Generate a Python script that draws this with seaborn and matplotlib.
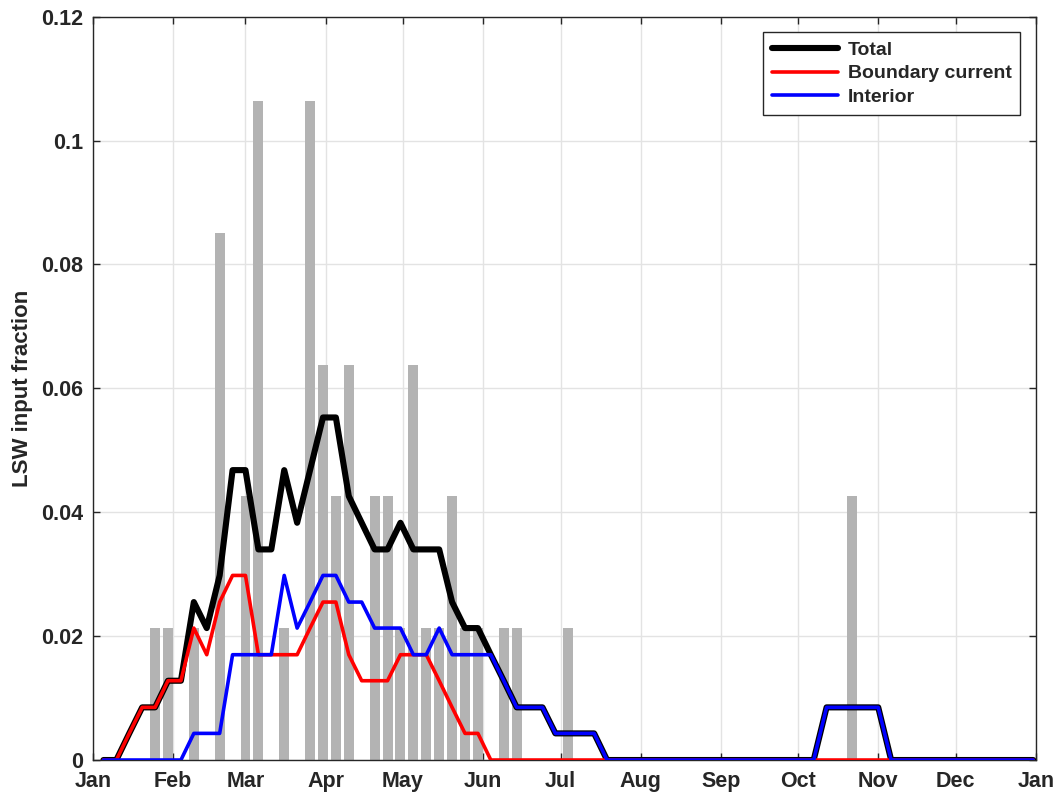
import numpy as np
import pandas as pd
import matplotlib
matplotlib.use("Agg")
import matplotlib.pyplot as plt
import seaborn as sns

# 5-day bins, centre day of year
bin_day = np.arange(4, 365, 5)

# grey bars: LSW input fraction per bin
bar_frac = [0, 0, 0, 0, 0.0213, 0.0213, 0, 0.0213, 0, 0.0851,
            0, 0.0426, 0.1064, 0, 0.0213, 0, 0.1064, 0.0638, 0.0426, 0.0638,
            0, 0.0426, 0.0426, 0.0213, 0.0638, 0.0213, 0.0213, 0.0426, 0.0213, 0.0213,
            0, 0.0213, 0.0213, 0, 0, 0, 0.0213, 0, 0, 0,
            0, 0, 0, 0, 0, 0, 0, 0, 0, 0,
            0, 0, 0, 0, 0, 0, 0, 0, 0.0426, 0,
            0, 0, 0, 0, 0, 0, 0, 0, 0, 0,
            0, 0, 0]

total = [0, 0, 0.0043, 0.0085, 0.0085, 0.0128, 0.0128, 0.0255, 0.0213, 0.0298,
         0.0468, 0.0468, 0.0340, 0.0340, 0.0468, 0.0383, 0.0468, 0.0553, 0.0553, 0.0426,
         0.0383, 0.0340, 0.0340, 0.0383, 0.0340, 0.0340, 0.0340, 0.0255, 0.0213, 0.0213,
         0.0170, 0.0128, 0.0085, 0.0085, 0.0085, 0.0043, 0.0043, 0.0043, 0.0043, 0,
         0, 0, 0, 0, 0, 0, 0, 0, 0, 0,
         0, 0, 0, 0, 0, 0, 0.0085, 0.0085, 0.0085, 0.0085,
         0.0085, 0, 0, 0, 0, 0, 0, 0, 0, 0,
         0, 0, 0]

boundary = [0, 0, 0.0043, 0.0085, 0.0085, 0.0128, 0.0128, 0.0213, 0.0170, 0.0255,
            0.0298, 0.0298, 0.0170, 0.0170, 0.0170, 0.0170, 0.0213, 0.0255, 0.0255, 0.0170,
            0.0128, 0.0128, 0.0128, 0.0170, 0.0170, 0.0170, 0.0128, 0.0085, 0.0043, 0.0043,
            0, 0, 0, 0, 0, 0, 0, 0, 0, 0,
            0, 0, 0, 0, 0, 0, 0, 0, 0, 0,
            0, 0, 0, 0, 0, 0, 0, 0, 0, 0,
            0, 0, 0, 0, 0, 0, 0, 0, 0, 0,
            0, 0, 0]

interior = [0, 0, 0, 0, 0, 0, 0, 0.0043, 0.0043, 0.0043,
            0.0170, 0.0170, 0.0170, 0.0170, 0.0298, 0.0213, 0.0255, 0.0298, 0.0298, 0.0255,
            0.0255, 0.0213, 0.0213, 0.0213, 0.0170, 0.0170, 0.0213, 0.0170, 0.0170, 0.0170,
            0.0170, 0.0128, 0.0085, 0.0085, 0.0085, 0.0043, 0.0043, 0.0043, 0.0043, 0,
            0, 0, 0, 0, 0, 0, 0, 0, 0, 0,
            0, 0, 0, 0, 0, 0, 0.0085, 0.0085, 0.0085, 0.0085,
            0.0085, 0, 0, 0, 0, 0, 0, 0, 0, 0,
            0, 0, 0]

month_start = [0, 31, 59, 90, 120, 151, 181, 212, 243, 273, 304, 334, 365]
month_names = ["Jan", "Feb", "Mar", "Apr", "May", "Jun", "Jul",
               "Aug", "Sep", "Oct", "Nov", "Dec", "Jan"]

df = pd.DataFrame({"day": bin_day, "bar": bar_frac, "total": total,
                   "boundary": boundary, "interior": interior})

sns.set_style("ticks")
plt.rcParams["font.family"] = ["Liberation Sans", "DejaVu Sans"]
plt.rcParams["font.weight"] = "bold"

fig = plt.figure(figsize=(10.58, 7.95), dpi=100)
ax = fig.add_axes([0.088, 0.044, 0.891, 0.935])

sns.barplot(data=df, x="day", y="bar", native_scale=True, orient="x",
            width=0.77, color="#b3b3b3", saturation=1, linewidth=0,
            errorbar=None, ax=ax, zorder=2)

sns.lineplot(data=df, x="day", y="total", color="black", linewidth=4.4,
             label="Total", ax=ax, zorder=3)
sns.lineplot(data=df, x="day", y="boundary", color="#ff0000", linewidth=2.6,
             label="Boundary current", ax=ax, zorder=4)
sns.lineplot(data=df, x="day", y="interior", color="#0000ff", linewidth=2.6,
             label="Interior", ax=ax, zorder=5)

ax.set_xlim(0, 365)
ax.set_ylim(0, 0.12)
ax.set_xticks(month_start)
ax.set_xticklabels(month_names)
ax.set_yticks([0, 0.02, 0.04, 0.06, 0.08, 0.1, 0.12])
ax.set_yticklabels(["0", "0.02", "0.04", "0.06", "0.08", "0.1", "0.12"])
ax.set_xlabel("")
ax.set_ylabel("LSW input fraction", fontsize=16, fontweight="bold", labelpad=6)
ax.grid(True, color="#e3e3e3", linewidth=1, zorder=0)
ax.set_axisbelow(True)
ax.tick_params(direction="in", length=5, width=1, labelsize=15.5,
               top=True, right=True, colors="#262626")
ax.tick_params(axis="x", pad=8)
ax.tick_params(axis="y", pad=7)
for lab in ax.get_xticklabels() + ax.get_yticklabels():
    lab.set_fontweight("bold")
for sp in ax.spines.values():
    sp.set_visible(True)
    sp.set_color("#262626")
    sp.set_linewidth(1)

leg = ax.legend(loc="upper right", fontsize=14, frameon=True, fancybox=False,
                edgecolor="#262626", framealpha=1, handlelength=3.4,
                borderaxespad=0.8, labelspacing=0.32, handletextpad=0.5,
                borderpad=0.45)
leg.get_frame().set_linewidth(1)
for t in leg.get_texts():
    t.set_fontweight("bold")

fig.savefig("out.png", dpi=100)
